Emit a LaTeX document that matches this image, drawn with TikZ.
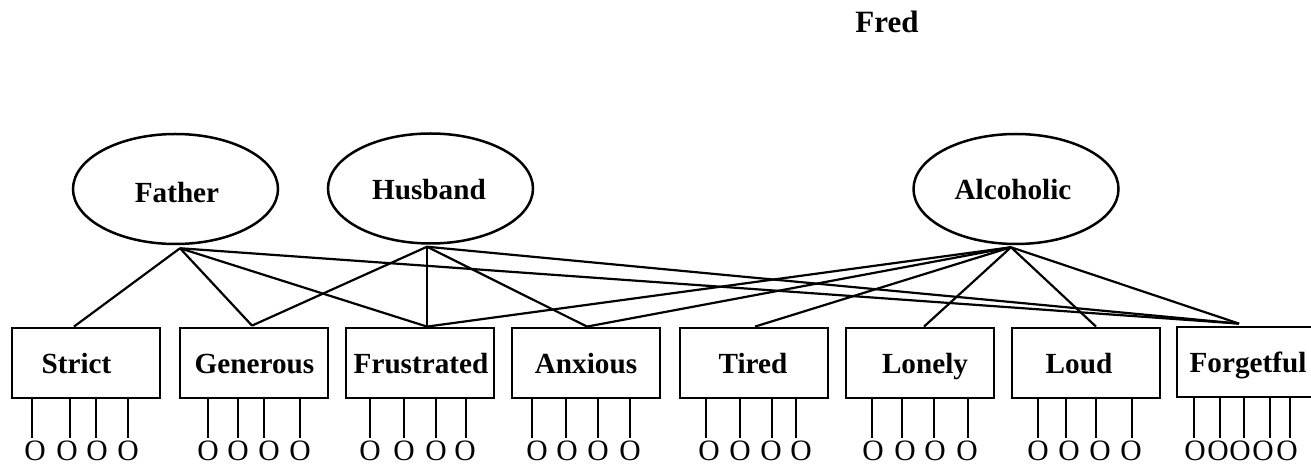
\documentclass[tikz,border=0pt]{standalone}
\usepackage{fontspec}
\setmainfont{Liberation Serif}
\usetikzlibrary{shapes.geometric,calc}
\tikzset{
  latent/.style={ellipse,draw,line width=1.25pt,minimum width=102.5pt,minimum height=55pt,inner sep=0pt},
  obsbox/.style={rectangle,draw,line width=1.4pt,minimum width=74pt,minimum height=35pt,inner sep=0pt},
  lab/.style={anchor=base,inner sep=0pt,font=\fontsize{14.6}{17}\selectfont\bfseries},
  itemO/.style={anchor=base,inner sep=0pt,font=\fontsize{14.8}{17}\selectfont},
  conn/.style={line width=1.1pt},
  stub/.style={line width=1.1pt}
}
\begin{document}
\begin{tikzpicture}[x=0.5pt,y=-0.5pt]
\useasboundingbox (0,0) rectangle (1311,464);
\clip (0,0) rectangle (1311,464);
\node[lab,font=\fontsize{15.5}{18}\selectfont\bfseries] (fred) at (887,33) {Fred};
% latent variables
\node[latent] (fa) at (175.5,189) {};
\node[latent] (hu) at (430.5,188.5) {};
\node[latent] (al) at (1016,189) {};
\node[lab] (faT) at (177,203) {Father};
\node[lab] (huT) at (429,200) {Husband};
\node[lab] (alT) at (1013,200) {Alcoholic};
% observed boxes
\node[obsbox] (st) at (86,363) {};
\node[obsbox] (ge) at (254,363) {};
\node[obsbox] (fr) at (420,363) {};
\node[obsbox] (an) at (586,363) {};
\node[obsbox] (ti) at (754,363) {};
\node[obsbox] (lo) at (920,363) {};
\node[obsbox] (ld) at (1086,363) {};
\node[obsbox] (fo) at (1251,362) {};
\node[lab] (stT) at (76.5,373) {Strict};
\node[lab] (geT) at (254.5,373) {Generous};
\node[lab] (frT) at (421,373) {Frustrated};
\node[lab] (anT) at (586,373) {Anxious};
\node[lab] (tiT) at (753,373) {Tired};
\node[lab] (loT) at (925,373) {Lonely};
\node[lab] (ldT) at (1079,373) {Loud};
\node[lab] (foT) at (1248,372) {Forgetful};
% attachment points
\coordinate (faP) at ($(fa.south)+(4.5,3)$);
\coordinate (huP) at ($(hu.south)+(-3.5,2)$);
\coordinate (alP) at ($(al.south)+(-5,2)$);
\coordinate (stP) at ($(st.north)+(-12,0)$);
\coordinate (geP) at ($(ge.north)+(-2,-1)$);
\coordinate (frP) at ($(fr.north)+(7,0)$);
\coordinate (anP) at ($(an.north)+(1,0)$);
\coordinate (tiP) at ($(ti.north)+(1,0)$);
\coordinate (loP) at ($(lo.north)+(4,0)$);
\coordinate (ldP) at ($(ld.north)+(10,0)$);
\coordinate (foP) at ($(fo.north)+(-12,-2)$);
% connectors
\foreach \b in {stP,geP,frP,foP} \draw[conn] (faP) -- (\b);
\foreach \b in {geP,frP,anP,foP} \draw[conn] (huP) -- (\b);
\foreach \b in {frP,anP,tiP,loP,ldP,foP} \draw[conn] (alP) -- (\b);
% indicator stubs
\foreach \n/\xs in {st/{32,70,96,128},ge/{208,238,264,300},fr/{370,404,436,466},an/{532,566,598,630},ti/{706,740,772,796},lo/{872,902,934,968},ld/{1038,1066,1096,1132},fo/{1194,1220,1244,1270,1290}}{
  \foreach \x in \xs { \draw[stub] (\x,0 |- \n.south) -- (\x,438); }
}
% item circles
\foreach \x [count=\i] in {35,67,97,128,208,238,269,300,370,404,436,465,537,567,598,630,709,740,771,801,873,905,935,967,1038,1069,1100,1131,1195,1218,1240,1263,1287}{
  \node[itemO] (o\i) at (\x,460) {O};
}
\end{tikzpicture}
\end{document}
